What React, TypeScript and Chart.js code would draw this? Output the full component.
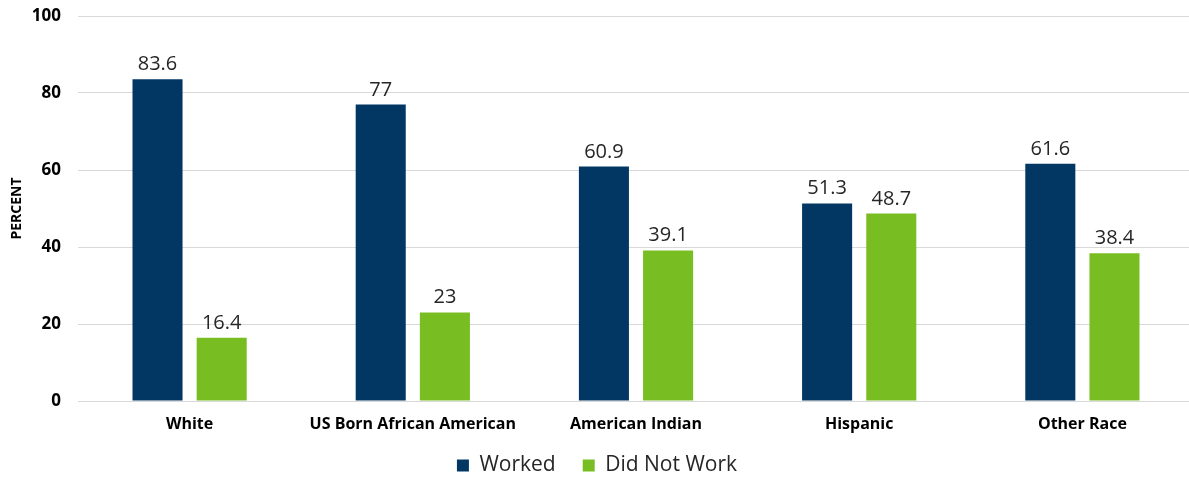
import React, { useEffect, useRef } from "react";
import { Chart, registerables } from "chart.js";

Chart.register(...registerables);

const categories = ["White", "US Born African American", "American Indian", "Hispanic", "Other Race"];
const worked = [83.6, 77, 60.9, 51.3, 61.6];
const didNotWork = [16.4, 23, 39.1, 48.7, 38.4];
const yTicks = [0, 20, 40, 60, 80, 100];

const NAVY = "#023764";
const GREEN = "#78BE22";
const FONT = "'Open Sans', 'Noto Sans', sans-serif";

// Writes each bar's value just above it.
const valueLabels = {
  id: "valueLabels",
  afterDatasetsDraw(chart: any) {
    const ctx = chart.ctx;
    ctx.save();
    ctx.font = `20px ${FONT}`;
    ctx.fillStyle = "#262626";
    ctx.textAlign = "center";
    ctx.textBaseline = "alphabetic";
    chart.data.datasets.forEach((ds: any, i: number) => {
      const meta = chart.getDatasetMeta(i);
      meta.data.forEach((bar: any, j: number) => {
        ctx.fillText(String(ds.data[j]), bar.x, bar.y - 9);
      });
    });
    ctx.restore();
  },
};

// Pulls the legend up so it sits close under the category labels.
const LEGEND_LIFT = 18;
const legendLift = {
  id: "legendLift",
  afterLayout(chart: any) {
    const lg = chart.legend;
    if (lg) {
      lg.top -= LEGEND_LIFT;
      lg.bottom -= LEGEND_LIFT;
    }
  },
};

export default function App() {
  const ref = useRef<HTMLCanvasElement>(null);

  useEffect(() => {
    document.body.style.margin = "0";
    const chart = new Chart(ref.current!, {
      type: "bar",
      data: {
        labels: categories,
        datasets: [
          { label: "Worked", data: worked, backgroundColor: NAVY },
          { label: "Did Not Work", data: didNotWork, backgroundColor: GREEN },
        ],
      },
      options: {
        animation: false,
        responsive: false,
        events: [],
        layout: { padding: { top: 16, right: 1, left: 0, bottom: -27 } },
        datasets: { bar: { categoryPercentage: 0.575, barPercentage: 0.78 } },
        scales: {
          x: {
            grid: { display: false, drawTicks: false },
            border: { display: true, color: "#d9d9d9", width: 1 },
            ticks: {
              color: "#000",
              padding: 14,
              maxRotation: 0,
              font: { family: FONT, size: 16, weight: "bold" },
            },
            afterFit: (s: any) => {
              s.height = 45;
            },
          },
          y: {
            min: 0,
            max: 100,
            afterBuildTicks: (s: any) => {
              s.ticks = yTicks.map((v) => ({ value: v }));
            },
            grid: { color: "#d9d9d9", lineWidth: 1, drawTicks: false },
            border: { display: false },
            ticks: {
              color: "#000",
              padding: 17,
              font: { family: FONT, size: 17, weight: "bold" },
            },
            title: {
              display: true,
              text: "PERCENT",
              color: "#000",
              padding: { top: 9, bottom: 0 },
              font: { family: FONT, size: 14, weight: "bold" },
            },
            afterFit: (s: any) => {
              s.width = 78;
              s.paddingTop = 0;
              s.paddingBottom = 0;
            },
          },
        },
        plugins: {
          legend: {
            position: "bottom",
            labels: {
              boxWidth: 12,
              boxHeight: 12,
              padding: 27,
              color: "#262626",
              font: { family: FONT, size: 21 },
            },
          },
          tooltip: { enabled: false },
        },
      },
      plugins: [valueLabels, legendLift],
    });
    return () => chart.destroy();
  }, []);

  return (
    <div style={{ width: 1189, height: 477, overflow: "hidden", background: "#fff" }}>
      <canvas ref={ref} width={1195} height={477} />
    </div>
  );
}
